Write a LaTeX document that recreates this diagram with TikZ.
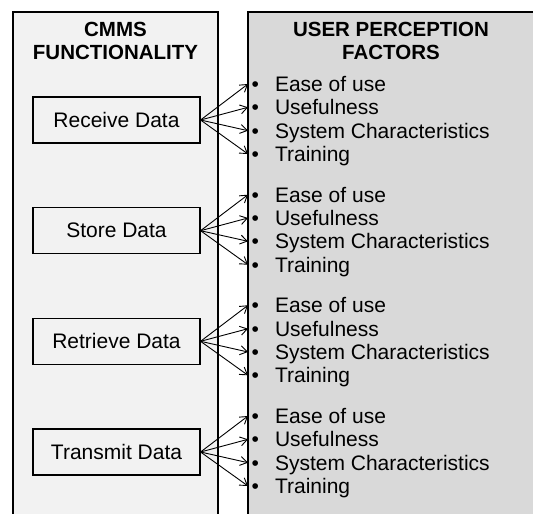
\documentclass[tikz,border=0pt]{standalone}
\usepackage{fontspec}
\setmainfont{Liberation Sans}
\usepackage{tikz}
\usetikzlibrary{arrows.meta,positioning}

\begin{document}
\begin{tikzpicture}[
    x=1pt, y=-1pt,
    panel/.style={line width=2.4pt, draw=black},
    head/.style={font=\fontsize{20.5}{23}\selectfont\bfseries, align=center, inner sep=0pt},
    func/.style={rectangle, draw, line width=1.1pt, fill=black!5, minimum width=167pt, minimum height=46pt, inner sep=0pt, font=\fontsize{21}{23}\selectfont},
    item/.style={anchor=west, inner xsep=3.5pt, inner ysep=0pt, text height=15pt, text depth=0pt, font=\fontsize{21}{23}\selectfont},
    arrow/.style={-{Straight Barb[length=7pt,width=9pt]}, line width=0.9pt}
]
    \useasboundingbox (0,0) rectangle (533,514);
    \clip (0,0) rectangle (533,514);

    % Panels
    \draw[panel, fill=black!5] (13,12) rectangle (218,540);
    \draw[panel, fill=black!15] (248,12) rectangle (560,540);

    % Headings
    \node[head] (fhead) at (115.5,41) {CMMS\\FUNCTIONALITY};
    \node[head] (uhead) at (391,41) {USER PERCEPTION\\FACTORS};

    % CMMS functions
    \node[func] (receive) at (116.5,120) {Receive Data};
    \node[func] (store) at (116.5,230.7) {Store Data};
    \node[func] (retrieve) at (116.5,341.3) {Retrieve Data};
    \node[func] (transmit) at (116.5,452) {Transmit Data};

    % Factors for each function
    \node[item] (rec1) at (248,84) {\textbullet\hspace{16pt}Ease of use};
    \node[item] (rec2) at (248,107.3) {\textbullet\hspace{16pt}Usefulness};
    \node[item] (rec3) at (248,130.7) {\textbullet\hspace{16pt}System Characteristics};
    \node[item] (rec4) at (248,154) {\textbullet\hspace{16pt}Training};

    \node[item] (sto1) at (248,194.7) {\textbullet\hspace{16pt}Ease of use};
    \node[item] (sto2) at (248,218) {\textbullet\hspace{16pt}Usefulness};
    \node[item] (sto3) at (248,241.3) {\textbullet\hspace{16pt}System Characteristics};
    \node[item] (sto4) at (248,264.7) {\textbullet\hspace{16pt}Training};

    \node[item] (ret1) at (248,305.3) {\textbullet\hspace{16pt}Ease of use};
    \node[item] (ret2) at (248,328.7) {\textbullet\hspace{16pt}Usefulness};
    \node[item] (ret3) at (248,352) {\textbullet\hspace{16pt}System Characteristics};
    \node[item] (ret4) at (248,375.3) {\textbullet\hspace{16pt}Training};

    \node[item] (tra1) at (248,416) {\textbullet\hspace{16pt}Ease of use};
    \node[item] (tra2) at (248,439.3) {\textbullet\hspace{16pt}Usefulness};
    \node[item] (tra3) at (248,462.7) {\textbullet\hspace{16pt}System Characteristics};
    \node[item] (tra4) at (248,486) {\textbullet\hspace{16pt}Training};

    % Arrows
    \draw[arrow] (receive.east) -- (rec1.west);
    \draw[arrow] (receive.east) -- (rec2.west);
    \draw[arrow] (receive.east) -- (rec3.west);
    \draw[arrow] (receive.east) -- (rec4.west);

    \draw[arrow] (store.east) -- (sto1.west);
    \draw[arrow] (store.east) -- (sto2.west);
    \draw[arrow] (store.east) -- (sto3.west);
    \draw[arrow] (store.east) -- (sto4.west);

    \draw[arrow] (retrieve.east) -- (ret1.west);
    \draw[arrow] (retrieve.east) -- (ret2.west);
    \draw[arrow] (retrieve.east) -- (ret3.west);
    \draw[arrow] (retrieve.east) -- (ret4.west);

    \draw[arrow] (transmit.east) -- (tra1.west);
    \draw[arrow] (transmit.east) -- (tra2.west);
    \draw[arrow] (transmit.east) -- (tra3.west);
    \draw[arrow] (transmit.east) -- (tra4.west);
\end{tikzpicture}
\end{document}
